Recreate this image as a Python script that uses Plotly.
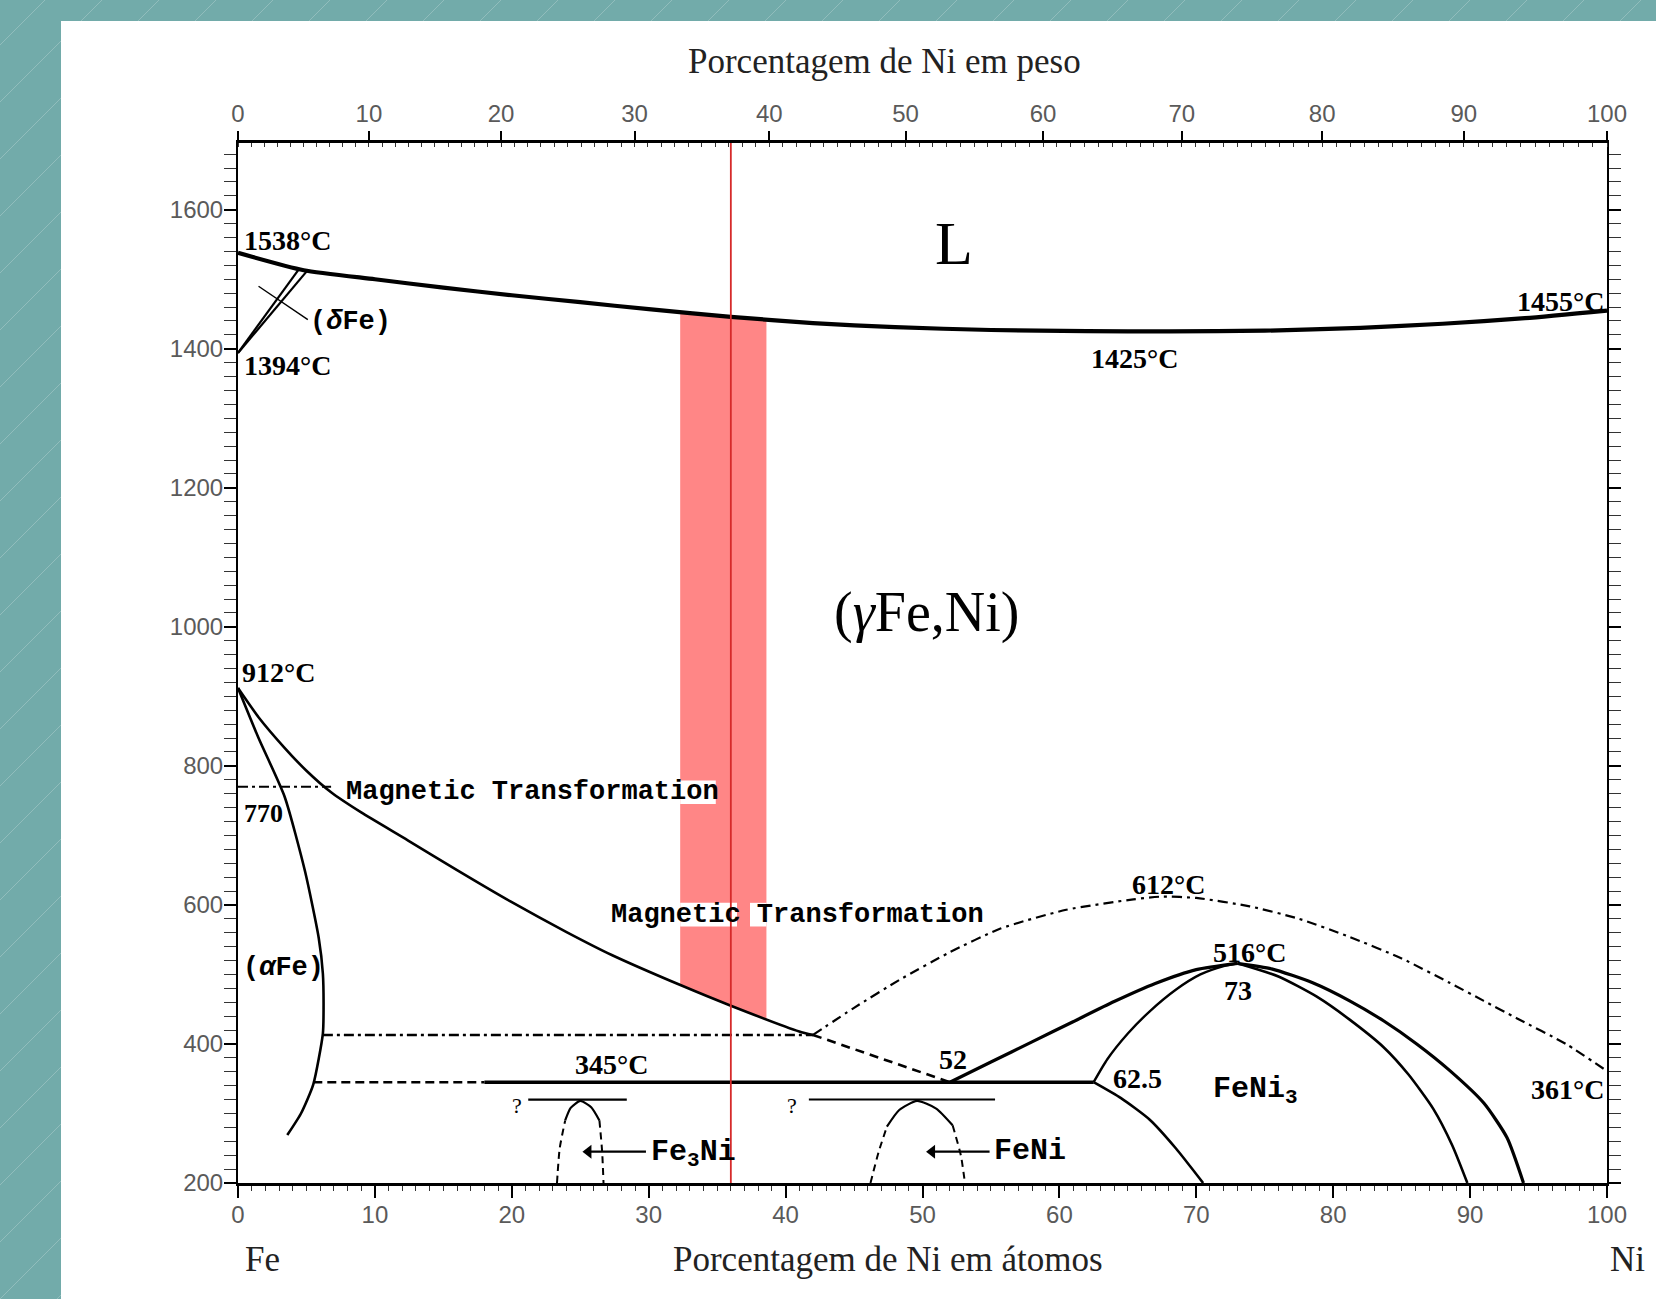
import plotly.graph_objects as go

# ---------------------------------------------------------------
# Fe-Ni phase diagram (composition in at.% Ni, temperature in °C)
# ---------------------------------------------------------------

# liquidus / solidus (drawn as one heavy line)
liq_x = [0, 4.8, 10, 15, 20, 25, 30, 36, 42, 48, 55, 62, 68, 75, 82, 88, 94, 100]
liq_T = [1538, 1513, 1500, 1488, 1477, 1467, 1457, 1446, 1437, 1431, 1427, 1425.5, 1425, 1426, 1430, 1436, 1444, 1455]

# (deltaFe) two-phase field boundaries
delta_a_x = [0, 4.4]
delta_a_T = [1394, 1513]
delta_b_x = [0, 5.0]
delta_b_T = [1394, 1511]
delta_ptr_x = [1.5, 5.1]
delta_ptr_T = [1490, 1442]

# gamma / (alpha + gamma) boundary
gam_x = [0, 1.5, 3.4, 5.0, 6.8, 9.0, 12.4, 16.0, 19.9, 24.0, 27.3, 32.4, 36.0, 41.0, 42.0]
gam_T = [912, 870, 826, 793, 762, 733, 693, 650, 605, 561, 528, 484, 455, 418, 413]
gam_ext_x = [42.0, 52.0]
gam_ext_T = [413, 345]

# alpha / (alpha + gamma) boundary
alp_x = [0, 1.5, 3.4, 4.9, 5.9, 6.2, 6.25, 6.2, 5.5, 4.6, 3.6]
alp_T = [912, 840, 756, 648, 552, 501, 450, 415, 342, 300, 269]

# magnetic transformation lines
mag_a_x = [0, 6.8]
mag_a_T = [770, 770]
mag_b_x = [6.2, 42.0]
mag_b_T = [413, 413]
curie_x = [42, 45, 48.3, 52, 55.7, 60.5, 65.4, 67.5, 70, 73.9, 77.5, 81.2, 85, 88.5, 91, 93.4, 97, 100]
curie_T = [413, 452, 492, 532, 566, 593, 608, 612, 610, 598, 580, 554, 523, 488, 462, 437, 400, 361]

# eutectoid line at 345 °C
eut_dash_x = [5.5, 18.0]
eut_solid_x = [18.0, 62.5]
eut_T = 345

# FeNi3 ordering field
n3_outer_l_x = [52, 55, 58, 61, 64, 67, 70, 73]
n3_outer_l_T = [345, 374, 403, 432, 461, 487, 507, 516]
n3_inner_l_x = [62.5, 63.5, 65, 66.6, 68.5, 70.3, 72, 73]
n3_inner_l_T = [345, 378, 415, 447, 478, 500, 512, 516]
n3_outer_r_x = [73, 75.5, 78.5, 81.2, 83.7, 86.1, 88.5, 91, 92.7, 93.9]
n3_outer_r_T = [516, 508, 488, 462, 433, 400, 362, 315, 265, 200]
n3_inner_r_x = [73, 76, 78.8, 81.2, 83.7, 85.5, 87.3, 88.7, 89.8]
n3_inner_r_T = [516, 497, 468, 435, 395, 356, 307, 254, 200]
n3_low_x = [62.5, 64.5, 66.6, 68.5, 70.5]
n3_low_T = [345, 322, 291, 250, 200]

# uncertain ordering temperatures ("?") and the Fe3Ni / FeNi domes
q_T = 320
q1_x = [21.2, 28.4]
q2_x = [41.7, 55.3]
fe3_left_x, fe3_left_T = [23.3, 23.5, 23.9], [200, 250, 290]
fe3_cap_x, fe3_cap_T = [23.9, 24.3, 25.0, 25.8, 26.4], [290, 308, 318, 309, 290]
fe3_right_x, fe3_right_T = [26.4, 26.6, 26.7], [290, 245, 200]
feni_left_x, feni_left_T = [46.2, 46.8, 47.4], [200, 245, 281]
feni_cap_x, feni_cap_T = [47.4, 48.3, 49.6, 51.0, 52.2], [281, 305, 318, 307, 283]
feni_right_x, feni_right_T = [52.2, 52.8, 53.1], [283, 240, 200]

# pointers to the ordered phases
arrow_T = 245
fe3_arrow_x = [29.8, 25.6]
feni_arrow_x = [54.9, 50.7]

# highlighted composition (Invar, ~36 at.% Ni) and its band
invar_x = 36.0
band_x = [32.3, 38.6]
band_top = [1451, 1440]
band_bot = [484, 436]

# axes
at_ticks = list(range(0, 101, 10))
T_ticks = list(range(200, 1601, 200))
wt_ticks = list(range(0, 101, 10))
wt_minor = list(range(0, 101, 1))
M_FE, M_NI = 55.845, 58.69


def wt_to_at(w):
    """weight % Ni -> atomic % Ni"""
    if w <= 0:
        return 0.0
    if w >= 100:
        return 100.0
    a = w / M_NI
    b = (100 - w) / M_FE
    return 100 * a / (a + b)


# ---------------------------------------------------------------
W, H = 1656, 1299
ML, MR, MT, MB = 238, 49, 143, 116
PW, PH = W - ML - MR, H - MT - MB


def paper_x(px):
    return (px - ML) / PW


def paper_y(py):
    return (H - MB - py) / PH


TEAL = "#72abaa"
INK = "black"
SERIF = "Liberation Serif"
MONO = "Liberation Mono"

fig = go.Figure()


def line(x, y, width=2.5, dash="solid", shape="spline", color=INK, smoothing=0.6):
    fig.add_trace(go.Scatter(
        x=x, y=y, mode="lines",
        line=dict(color=color, width=width, dash=dash, shape=shape, smoothing=smoothing),
        hoverinfo="skip", showlegend=False))


# shaded band
fig.add_trace(go.Scatter(x=band_x, y=band_bot, mode="lines", line=dict(width=0),
                         hoverinfo="skip", showlegend=False))
fig.add_trace(go.Scatter(x=band_x, y=band_top, mode="lines", line=dict(width=0),
                         fill="tonexty", fillcolor="#ff8686",
                         hoverinfo="skip", showlegend=False))

# white backing for the label words that sit on the band
for bx0, bx1, by0, by1 in [(32.3, 34.9, 745, 779), (32.3, 36.45, 569, 603), (37.4, 38.6, 569, 603)]:
    fig.add_trace(go.Scatter(x=[bx0, bx1, bx1, bx0, bx0], y=[by0, by0, by1, by1, by0],
                             mode="lines", line=dict(width=0), fill="toself",
                             fillcolor="white", hoverinfo="skip", showlegend=False))

# phase boundaries
line(liq_x, liq_T, width=4.2)
line(delta_a_x, delta_a_T, width=2.2, shape="linear")
line(delta_b_x, delta_b_T, width=2.2, shape="linear")
line(delta_ptr_x, delta_ptr_T, width=1.4, shape="linear")
line(gam_x, gam_T, width=2.6)
line(gam_ext_x, gam_ext_T, width=2.6, dash="9px,6px", shape="linear")
line(alp_x, alp_T, width=2.6)
line(mag_a_x, mag_a_T, width=2.2, dash="10px,4px,3px,4px", shape="linear")
line(mag_b_x, mag_b_T, width=2.6, dash="10px,4px,3px,4px", shape="linear")
line(curie_x, curie_T, width=2.2, dash="10px,5px,3px,5px")
line(eut_dash_x, [eut_T, eut_T], width=2.4, dash="9px,5px", shape="linear")
line(eut_solid_x, [eut_T, eut_T], width=3.4, shape="linear")
line(n3_outer_l_x, n3_outer_l_T, width=3.2)
line(n3_inner_l_x, n3_inner_l_T, width=2.4)
line(n3_outer_r_x, n3_outer_r_T, width=3.2)
line(n3_inner_r_x, n3_inner_r_T, width=2.6)
line(n3_low_x, n3_low_T, width=2.6)
line(q1_x, [q_T, q_T], width=2.2, shape="linear")
line(q2_x, [q_T, q_T], width=2.0, shape="linear")
line(fe3_left_x, fe3_left_T, width=2.0, dash="7px,5px")
line(fe3_cap_x, fe3_cap_T, width=2.2)
line(fe3_right_x, fe3_right_T, width=2.0, dash="7px,5px")
line(feni_left_x, feni_left_T, width=2.0, dash="7px,5px")
line(feni_cap_x, feni_cap_T, width=2.2)
line(feni_right_x, feni_right_T, width=2.0, dash="7px,5px")

# arrows: shaft plus a left-pointing head at the tip
for ax_ in (fe3_arrow_x, feni_arrow_x):
    line(ax_, [arrow_T, arrow_T], width=2.2, shape="linear")
    fig.add_trace(go.Scatter(x=[ax_[-1]], y=[arrow_T], mode="markers",
                             marker=dict(symbol="triangle-left", size=12, color=INK),
                             hoverinfo="skip", showlegend=False))

# highlighted composition
line([invar_x, invar_x], [200, 1696], width=1.8, shape="linear", color="#d62a2a")

# carrier for the top (weight %) axis
fig.add_trace(go.Scatter(x=[0, 100], y=[200, 200], xaxis="x2", mode="markers",
                         marker=dict(size=0, opacity=0), hoverinfo="skip", showlegend=False))

# ---------------------------------------------------------------
ann = []


def label(text, x, y, size=28, font=SERIF, anchor="left", bold=False, color=INK):
    t = f"<b>{text}</b>" if bold else text
    ann.append(dict(text=t, x=x, y=y, xref="x", yref="y", showarrow=False,
                    xanchor=anchor, yanchor="middle",
                    font=dict(family=font, size=size, color=color)))


def page_label(text, px, py, size=34):
    ann.append(dict(text=text, x=paper_x(px), y=paper_y(py), xref="paper", yref="paper",
                    showarrow=False, xanchor="center", yanchor="middle",
                    font=dict(family=SERIF, size=size, color="#222")))


label("1538°C", 0.3, 1556, bold=True)
label("1394°C", 0.3, 1376, bold=True)
label("(<i>δ</i>Fe)", 5.1, 1439, font=MONO, bold=True, size=27)
label("1455°C", 99.9, 1468, anchor="right", bold=True)
label("1425°C", 65.5, 1386, anchor="center", bold=True)
label("912°C", 0.17, 934, bold=True)
label("770", 0.3, 732, bold=True, size=26)
label("Magnetic Transformation", 7.73, 762, font=MONO, bold=True, size=27)
label("(<i>α</i>Fe)", 0.2, 509, font=MONO, bold=True, size=27)
label("Magnetic Transformation", 27.1, 586, font=MONO, bold=True, size=27)
label("612°C", 68.0, 630, anchor="center", bold=True)
label("516°C", 73.9, 531, anchor="center", bold=True)
label("73", 73.05, 477, anchor="center", bold=True)
label("52", 52.2, 378, anchor="center", bold=True)
label("345°C", 27.3, 370, anchor="center", bold=True)
label("62.5", 63.8, 351, bold=True)
label("FeNi<sub>3</sub>", 71.1, 333, font=MONO, bold=True, size=30)
label("361°C", 99.9, 334, anchor="right", bold=True)
label("?", 20.4, 311, anchor="center", size=22)
label("?", 40.5, 311, anchor="center", size=22)
label("Fe<sub>3</sub>Ni", 30.0, 242, font=MONO, bold=True, size=30)
label("FeNi", 55.1, 246, font=MONO, bold=True, size=30)
label("L", 52.3, 1552, anchor="center", size=62)
label("(<i>γ</i>Fe,Ni)", 50.3, 1021, anchor="center", size=56)

page_label("Porcentagem de Ni em peso", 884, 61, size=35)
page_label("Porcentagem de Ni em átomos", 888, 1259, size=35)
page_label("Fe", 262, 1259, size=35)
page_label("Ni", 1627, 1259, size=35)

# ---------------------------------------------------------------
# page background: teal frame with faint diagonal stripes, white sheet
stripe_path = ""
for k in range(-30, 60):
    x0 = k * 57
    x1 = x0 + H
    stripe_path += f"M{paper_x(x0)},{paper_y(H)} L{paper_x(x1)},{paper_y(0)} "

shapes = [
    dict(type="path", path=stripe_path, xref="paper", yref="paper", layer="below",
         line=dict(color="rgba(255,255,255,0.22)", width=1)),
    dict(type="rect", xref="paper", yref="paper", layer="below",
         x0=paper_x(61), x1=paper_x(W + 5), y0=paper_y(H + 5), y1=paper_y(21),
         fillcolor="white", line=dict(width=0)),
]

tick_font = dict(family="Liberation Sans", size=24, color="#5a5a5a")

fig.update_layout(
    width=W, height=H,
    margin=dict(l=ML, r=MR, t=MT, b=MB, pad=0),
    paper_bgcolor=TEAL,
    plot_bgcolor="white",
    showlegend=False,
    annotations=ann,
    shapes=shapes,
    xaxis=dict(
        range=[0, 100], tickvals=at_ticks, ticks="outside", ticklen=12, tickwidth=1.5,
        tickcolor=INK, showline=True, linecolor=INK, linewidth=2.5, mirror=False,
        showgrid=False, zeroline=False, tickfont=tick_font, ticklabelstandoff=-4,
        minor=dict(dtick=1, ticks="outside", ticklen=5, tickwidth=1, tickcolor="#333"),
    ),
    xaxis2=dict(
        range=[0, 100], overlaying="x", side="top", anchor="y",
        tickvals=[wt_to_at(w) for w in wt_ticks], ticktext=[str(w) for w in wt_ticks],
        ticks="outside", ticklen=9, tickwidth=1.5, tickcolor=INK,
        showline=True, linecolor=INK, linewidth=2.5, showgrid=False, zeroline=False,
        tickfont=tick_font, ticklabelstandoff=0,
        minor=dict(tickvals=[wt_to_at(w) for w in wt_minor], ticks="inside",
                   ticklen=4, tickwidth=1, tickcolor="#333"),
    ),
    yaxis=dict(
        range=[200, 1696], tickvals=T_ticks, ticks="outside", ticklen=12, tickwidth=1.5,
        tickcolor=INK, showline=True, linecolor=INK, linewidth=2, mirror="allticks",
        showgrid=False, zeroline=False, tickfont=tick_font, ticklabelstandoff=-4,
        minor=dict(dtick=20, ticks="outside", ticklen=5, tickwidth=1, tickcolor="#333"),
    ),
)

fig.write_html("out.html")
